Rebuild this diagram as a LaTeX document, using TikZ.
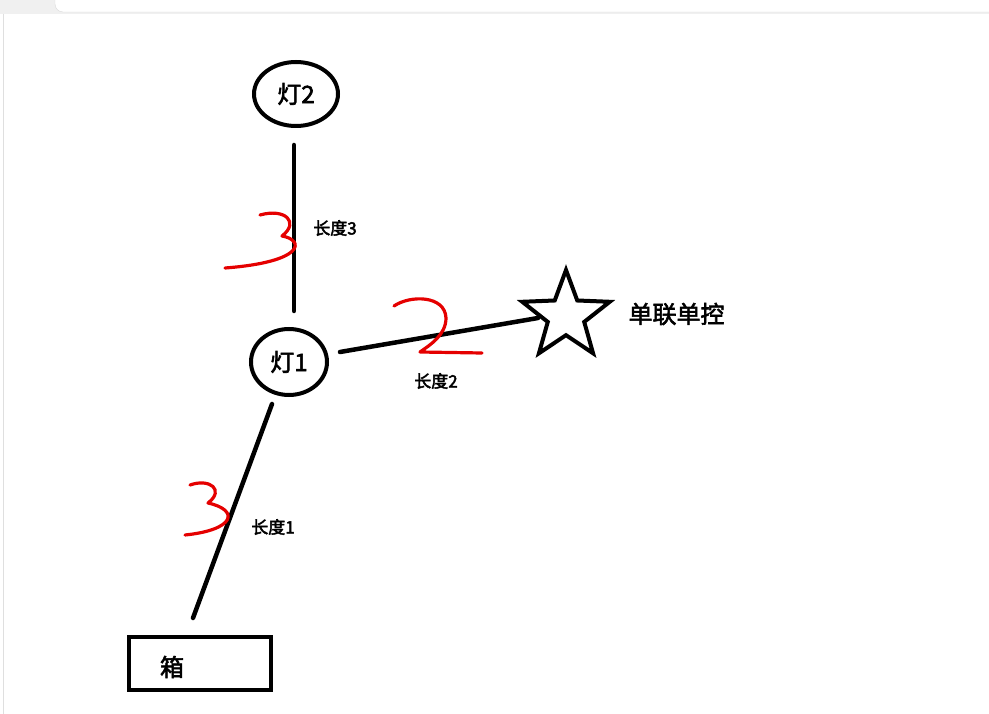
\documentclass[tikz,border=0pt]{standalone}
\usepackage{fontspec}
\newfontfamily\cjk{Noto Sans CJK SC}[FakeBold=2.5]
\usetikzlibrary{shapes.geometric}
\begin{document}
\begin{tikzpicture}[x=1pt,y=-1pt,
  blk/.style={line width=4.5pt,line cap=round},
  lbl/.style={font=\cjk\fontsize{17}{17}\selectfont},
  big/.style={font=\cjk\fontsize{24}{24}\selectfont},
  red3/.style={red!90!black,line width=3.2pt,line cap=round,line join=round}]
\useasboundingbox (0,0) rectangle (989,714);
\fill[gray!12] (0,0) rectangle (989,14);
\fill[white,draw=gray!30] (55,-10) [rounded corners=8pt] -- (55,12) -- (1000,12) -- (1000,-10);
\draw[gray!25] (3,14) -- (3,714);
\node[big,ellipse,draw,line width=4pt,minimum width=84pt,minimum height=64pt,inner sep=0pt] (l2) at (296,94) {灯2};
\node[big,ellipse,draw,line width=4pt,minimum width=76pt,minimum height=66pt,inner sep=0pt] (l1) at (289,362) {灯1};
\node[star,star points=5,star point ratio=2.4,draw,line width=4pt,minimum size=92pt,inner sep=0pt] (s) at (566,316) {};
\node[big,anchor=west] (t) at (625,314) {单联单控};
\node[draw,line width=4pt,minimum width=142pt,minimum height=53pt] (box) at (200,663) {};
\node[big] (x) at (172,667) {箱};
\coordinate (a1) at (294,145); \coordinate (a2) at (294,311);
\draw[blk] (a1) -- (a2);
\coordinate (b1) at (340,352); \coordinate (b2) at (538,318);
\draw[blk] (b1) -- (b2);
\coordinate (c1) at (272,404); \coordinate (c2) at (193,618);
\draw[blk] (c1) -- (c2);
\node[lbl] (L3) at (335,228) {长度3};
\node[lbl] (L2) at (436,381) {长度2};
\node[lbl] (L1) at (273,527) {长度1};
\draw[red3] (260,215) .. controls (285,208) and (300,222) .. (282,236) .. controls (305,240) and (305,262) .. (225,268);
\draw[red3] (394,306) .. controls (410,295) and (445,295) .. (446,318) .. controls (446,335) and (430,345) .. (420,352) -- (482,353);
\draw[red3] (190,485) .. controls (210,478) and (225,490) .. (208,503) .. controls (240,510) and (235,530) .. (185,535);
\end{tikzpicture}
\end{document}
